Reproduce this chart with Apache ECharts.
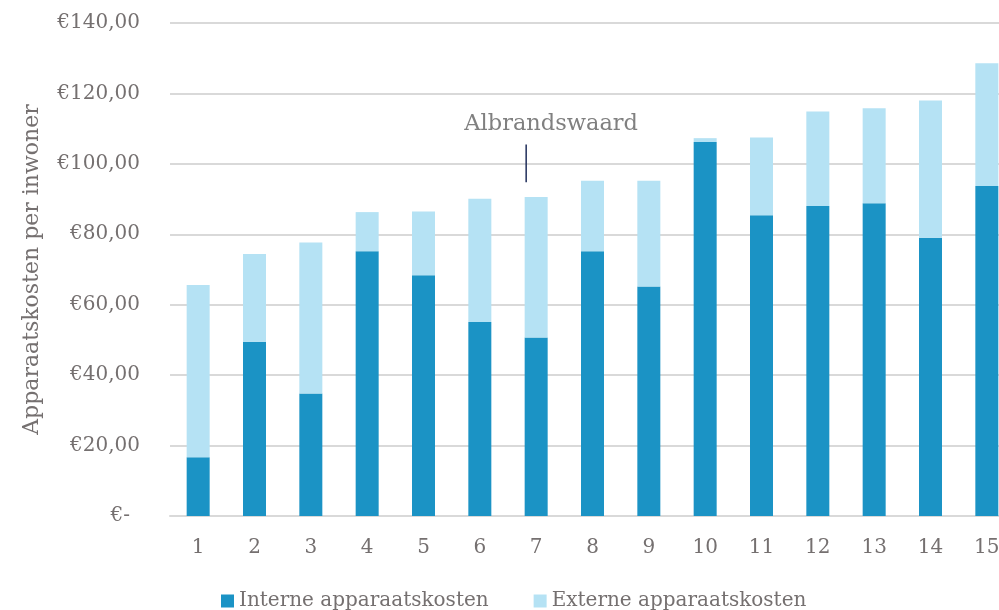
<!DOCTYPE html>
<html>
<head>
<meta charset="utf-8">
<title>Apparaatskosten per inwoner</title>
<script src="https://cdn.jsdelivr.net/npm/echarts@6/dist/echarts.min.js"></script>
<style>
  html, body { margin: 0; padding: 0; background: #fff; }
  #chart { width: 999px; height: 610px; }
</style>
</head>
<body>
<div id="chart"></div>
<script>
const categories = ['1', '2', '3', '4', '5', '6', '7', '8', '9', '10', '11', '12', '13', '14', '15']
const interne = [16.7, 49.5, 34.8, 75.2, 68.4, 55.1, 50.7, 75.2, 65.2, 106.2, 85.4, 88.0, 88.8, 79.0, 93.7]
const externe = [48.9, 24.9, 42.9, 11.1, 18.1, 35.0, 39.9, 20.0, 30.0, 1.1, 22.1, 26.9, 27.0, 39.0, 34.9]
const yTicks = [0, 20, 40, 60, 80, 100, 120, 140]
const highlight = { category: '7', label: 'Albrandswaard' }

const font = 'DejaVu Serif'
const labelColor = '#757070'

const chart = echarts.init(document.getElementById('chart'))

const fmtEuro = (v) => {
  if (v === 0) return '{z|€-}'
  return '€' + v.toFixed(2).replace('.', ',')
}

chart.setOption({
  animation: false,
  textStyle: { fontFamily: font },
  grid: { left: 170, top: 23, width: 845, height: 493, outerBoundsMode: 'none' },
  legend: {
    left: 216,
    top: 586,
    itemWidth: 13,
    itemHeight: 13,
    itemGap: 45,
    icon: 'rect',
    textStyle: { fontFamily: font, fontSize: 20, color: labelColor },
    data: ['Interne apparaatskosten', 'Externe apparaatskosten']
  },
  xAxis: {
    type: 'category',
    data: categories,
    axisTick: { show: false },
    axisLine: { lineStyle: { color: '#d9d9d9', width: 2 } },
    axisLabel: { fontFamily: font, fontSize: 20, color: labelColor, margin: 22 }
  },
  yAxis: {
    type: 'value',
    min: yTicks[0],
    max: yTicks[yTicks.length - 1],
    interval: 20,
    name: 'Apparaatskosten per inwoner',
    nameLocation: 'middle',
    nameGap: 127,
    nameTextStyle: { fontFamily: font, fontSize: 22, color: labelColor },
    axisLine: { show: false },
    axisTick: { show: false },
    splitLine: { lineStyle: { color: '#d9d9d9', width: 2 } },
    axisLabel: {
      fontFamily: font,
      fontSize: 20,
      color: labelColor,
      margin: 30,
      formatter: fmtEuro,
      rich: { z: { fontFamily: font, fontSize: 20, color: labelColor, padding: [0, 10, 0, 0] } }
    }
  },
  series: [
    {
      name: 'Interne apparaatskosten',
      type: 'bar',
      stack: 'kosten',
      barWidth: 23,
      itemStyle: { color: '#1b93c5' },
      data: interne
    },
    {
      name: 'Externe apparaatskosten',
      type: 'bar',
      stack: 'kosten',
      barWidth: 23,
      itemStyle: { color: '#b5e2f4' },
      data: externe
    }
  ]
})

// annotation above the highlighted municipality
const lineTop = chart.convertToPixel({ seriesIndex: 0 }, [highlight.category, 105.5])
const lineBottom = chart.convertToPixel({ seriesIndex: 0 }, [highlight.category, 94.8])
const textPos = chart.convertToPixel({ seriesIndex: 0 }, [highlight.category, 111.4])

chart.setOption({
  graphic: [
    {
      type: 'line',
      shape: { x1: lineTop[0] - 10, y1: lineTop[1], x2: lineBottom[0] - 10, y2: lineBottom[1] },
      style: { stroke: '#1f2d5a', lineWidth: 1.5 }
    },
    {
      type: 'text',
      x: textPos[0] + 15,
      y: textPos[1],
      style: {
        text: highlight.label,
        fontFamily: font,
        fontSize: 22.5,
        fill: '#808080',
        align: 'center',
        verticalAlign: 'middle'
      }
    }
  ]
})
</script>
</body>
</html>
